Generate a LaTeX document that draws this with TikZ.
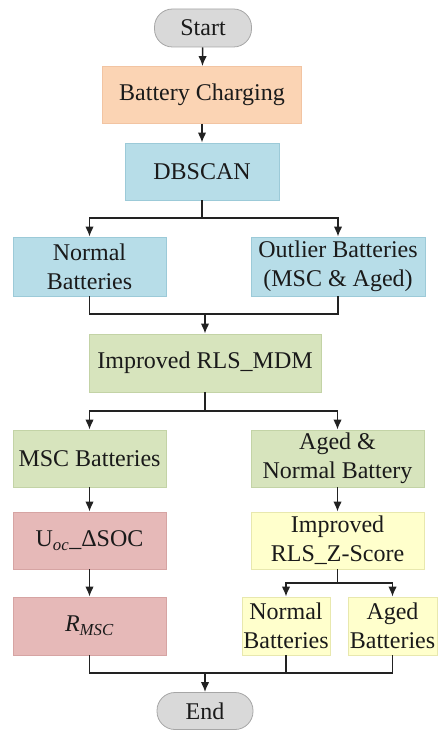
\documentclass[tikz,border=0pt]{standalone}
\usepackage{fontspec}
\setmainfont{Liberation Serif}
\usetikzlibrary{arrows.meta}
\definecolor{cgray}{HTML}{D9D9D9}
\definecolor{cgrayb}{HTML}{A6A6A6}
\definecolor{cpeach}{HTML}{FBD4B4}
\definecolor{cpeachb}{HTML}{F2C4A2}
\definecolor{cblue}{HTML}{B7DDE8}
\definecolor{cblueb}{HTML}{9CCAD8}
\definecolor{cgreen}{HTML}{D7E4BD}
\definecolor{cgreenb}{HTML}{C3D3A6}
\definecolor{cred}{HTML}{E6B9B8}
\definecolor{credb}{HTML}{D6A4A3}
\definecolor{cyellow}{HTML}{FFFFCC}
\definecolor{cyellowb}{HTML}{E8E8AE}
\definecolor{ctext}{HTML}{1A1A1A}
\definecolor{cline}{HTML}{222222}
\tikzset{
  box/.style={rectangle, draw, line width=0.8pt, inner sep=1pt, align=center,
    text=ctext, font=\fontsize{24}{29}\selectfont},
  term/.style={box, rounded corners=18pt, fill=cgray, draw=cgrayb},
  peach/.style={box, fill=cpeach, draw=cpeachb},
  blue/.style={box, fill=cblue, draw=cblueb},
  green/.style={box, fill=cgreen, draw=cgreenb},
  red/.style={box, fill=cred, draw=credb},
  yellow/.style={box, fill=cyellow, draw=cyellowb},
  conn/.style={draw=cline, line width=1.5pt},
  arr/.style={conn, -{Latex[length=10pt,width=8.5pt]}},
}
\begin{document}
\begin{tikzpicture}[x=1pt,y=-1pt]
\useasboundingbox (0,0) rectangle (438,730);
\node[term, minimum width=97pt, minimum height=38pt] (start) at (203,28) {Start};
\node[peach, minimum width=199pt, minimum height=57pt] (charge) at (202,95) {Battery Charging};
\node[blue, minimum width=154pt, minimum height=57pt] (dbscan) at (202,171.5) {DBSCAN};
\node[blue, minimum width=153pt, minimum height=59pt] (normal1) at (89.5,266.5) {Normal\\Batteries};
\node[blue, minimum width=174pt, minimum height=59pt] (outlier) at (338,266.5) {Outlier Batteries\\(MSC \& Aged)};
\node[green, minimum width=232pt, minimum height=58pt] (rls) at (205,363) {Improved RLS\_MDM};
\node[green, minimum width=153pt, minimum height=57pt] (msc) at (89.5,458.5) {MSC Batteries};
\node[green, minimum width=173pt, minimum height=57pt] (agednorm) at (337.5,458.5) {Aged \&\\Normal Battery};
\node[red, minimum width=153pt, minimum height=57pt] (uoc) at (89.5,540.5) {U\textsubscript{\textit{oc}}\_ΔSOC};
\node[red, minimum width=153pt, minimum height=58pt] (rmsc) at (89.5,626) {\textit{R}\textsubscript{\textit{MSC}}};
\node[yellow, minimum width=173pt, minimum height=57pt] (zscore) at (337.5,540.5) {Improved\\RLS\_Z-Score};
\node[yellow, minimum width=88pt, minimum height=58pt] (normal2) at (286,626) {Normal\\Batteries};
\node[yellow, minimum width=89pt, minimum height=58pt] (aged2) at (392.5,626) {Aged\\Batteries};
\node[term, minimum width=96pt, minimum height=37pt] (end) at (205,711) {End};
\coordinate (b1) at (202,218);
\coordinate (m1) at (205,314);
\coordinate (b2) at (205,411);
\coordinate (b3) at (337.5,583);
\coordinate (m3) at (205,673);
\draw[arr] (start) -- (charge);
\draw[arr] (charge) -- (dbscan);
\draw[conn] (dbscan) -- (b1);
\draw[arr] (b1) -| (normal1);
\draw[arr] (b1) -| (outlier);
\draw[conn] (normal1) |- (m1);
\draw[conn] (outlier) |- (m1);
\draw[arr] (m1) -- (rls);
\draw[conn] (rls) -- (b2);
\draw[arr] (b2) -| (msc);
\draw[arr] (b2) -| (agednorm);
\draw[arr] (msc) -- (uoc);
\draw[arr] (uoc) -- (rmsc);
\draw[arr] (agednorm) -- (zscore);
\draw[conn] (zscore) -- (b3);
\draw[arr] (b3) -| (normal2);
\draw[arr] (b3) -| (aged2);
\draw[conn] (rmsc) |- (m3);
\draw[conn] (aged2) |- (m3);
\draw[conn] (normal2.south) -- (normal2.south |- m3);
\draw[arr] (m3) -- (end);
\end{tikzpicture}
\end{document}
